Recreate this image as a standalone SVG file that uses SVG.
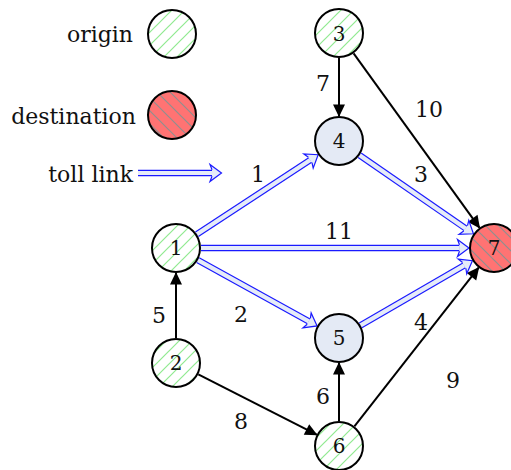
<svg xmlns="http://www.w3.org/2000/svg" width="511" height="470" viewBox="0 0 511 470">
<style>
text{font-family:"DejaVu Serif","Liberation Serif",serif;fill:#111}
.leg{font-size:22px;text-anchor:end}
.el{font-size:22px;text-anchor:middle}
.nl{font-size:20px;text-anchor:middle}
.node{stroke:#000;stroke-width:2}
.orig{fill:url(#green)}
.dest{fill:url(#redp)}
.mid{fill:#e4eaf5}
.blk{stroke:#000;stroke-width:2;fill:none;marker-end:url(#ah)}
.tollo{stroke:#1a1aff;stroke-width:6.6;fill:none}
.tolli{stroke:#e6ecf8;stroke-width:4.2;fill:none;marker-end:url(#th)}
</style>
<defs>
<pattern id="green" patternUnits="userSpaceOnUse" width="13" height="13">
<rect width="13" height="13" fill="#fff"/>
<path d="M-1,14 L14,-1 M-7,7 L7,-7 M6,20 L20,6" stroke="#90ea90" stroke-width="1.2"/>
</pattern>
<pattern id="redp" patternUnits="userSpaceOnUse" width="13" height="13">
<rect width="13" height="13" fill="#ff7373"/>
<path d="M-1,-1 L14,14 M-7,6 L7,20 M6,-7 L20,7" stroke="#8f8f8f" stroke-width="1.2"/>
</pattern>
<marker id="ah" markerUnits="userSpaceOnUse" orient="auto" markerWidth="24" markerHeight="24" refX="11.5" refY="0" viewBox="-2 -12 24 24" overflow="visible">
<path d="M0,-6 L12.5,0 L0,6 z" fill="#000"/>
</marker>
<marker id="th" markerUnits="userSpaceOnUse" orient="auto" markerWidth="20" markerHeight="20" refX="0" refY="0" viewBox="-5 -10 20 20" overflow="visible">
<path d="M0,3.3 L-2,8.5 L9.5,0 L-2,-8.5 L0,-3.3 z" fill="#e6ecf8"/>
<path d="M0,3.3 L-2,8.5 L9.5,0 L-2,-8.5 L0,-3.3" fill="none" stroke="#1a1aff" stroke-width="1.2" stroke-linejoin="miter"/>
</marker>
</defs>

<g id="legend">
<text class="leg" x="133" y="42">origin</text>
<circle class="node orig" cx="172" cy="34" r="24"/>
<text class="leg" x="136" y="124">destination</text>
<circle class="node dest" cx="172" cy="115" r="24"/>
<text class="leg" x="133" y="182">toll link</text>
<path class="tollo" d="M138,173 L212,173"/>
<path class="tolli" d="M138,173 L212,173"/>
</g>

<g id="connectors">
<path class="blk" d="M339,58 L339,116"/>
<path class="blk" d="M353.6,53.3 L479.4,227.7"/>
<path class="blk" d="M176,338 L176,273"/>
<path class="blk" d="M198.3,374.3 L316.7,434.7"/>
<path class="blk" d="M339,421 L339,363"/>
<path class="blk" d="M354.4,426.3 L478.6,267.7"/>

<path class="tollo" d="M196.9,234.3 L310.2,159.9"/>
<path class="tolli" d="M196.9,234.3 L310.2,159.9"/>
<path class="tollo" d="M201,248 L459.5,248"/>
<path class="tolli" d="M201,248 L459.5,248"/>
<path class="tollo" d="M197.9,260.1 L308.8,321.3"/>
<path class="tolli" d="M197.9,260.1 L308.8,321.3"/>
<path class="tollo" d="M360.6,325.4 L464.2,265.4"/>
<path class="tolli" d="M360.6,325.4 L464.2,265.4"/>
<path class="tollo" d="M359.6,155.2 L465.6,228.4"/>
<path class="tolli" d="M359.6,155.2 L465.6,228.4"/>

<text class="el" x="323" y="91">7</text>
<text class="el" x="429" y="117">10</text>
<text class="el" x="421" y="182">3</text>
<text class="el" x="258" y="182">1</text>
<text class="el" x="339" y="239">11</text>
<text class="el" x="159" y="323">5</text>
<text class="el" x="241" y="322">2</text>
<text class="el" x="421" y="330">4</text>
<text class="el" x="453" y="388">9</text>
<text class="el" x="323" y="404">6</text>
<text class="el" x="241" y="429">8</text>
</g>

<g id="n1"><circle class="node orig" cx="176" cy="248" r="24"/><text class="nl" x="176" y="255">1</text></g>
<g id="n2"><circle class="node orig" cx="176" cy="363" r="24"/><text class="nl" x="176" y="370">2</text></g>
<g id="n3"><circle class="node orig" cx="339" cy="33" r="24"/><text class="nl" x="339" y="41">3</text></g>
<g id="n4"><circle class="node mid" cx="339" cy="141" r="24"/><text class="nl" x="339" y="148">4</text></g>
<g id="n5"><circle class="node mid" cx="339" cy="338" r="24"/><text class="nl" x="339" y="345">5</text></g>
<g id="n6"><circle class="node orig" cx="339" cy="446" r="24"/><text class="nl" x="339" y="453">6</text></g>
<g id="n7"><circle class="node dest" cx="494" cy="248" r="24"/><text class="nl" x="494" y="255">7</text></g>
</svg>
